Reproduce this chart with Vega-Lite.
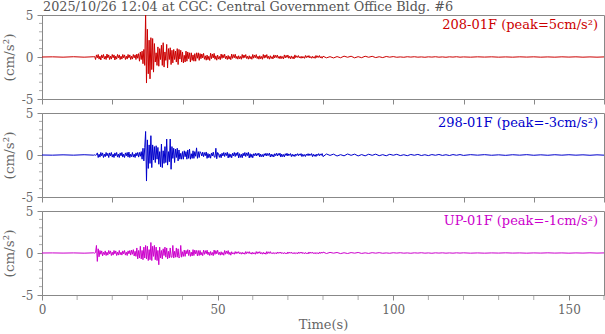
{
  "$schema": "https://vega.github.io/schema/vega-lite/v6.json",
  "padding": {"left": 1, "top": 0, "right": 0, "bottom": 0},
  "background": "white",
  "config": {
    "font": "DejaVu Serif",
    "view": {"stroke": "#888888", "strokeWidth": 1},
    "axis": {"domainColor": "#888888", "tickColor": "#888888", "labelColor": "#666666", "titleColor": "#666666", "labelFont": "DejaVu Serif", "titleFont": "DejaVu Serif", "labelFontSize": 12, "titleFontWeight": "normal", "grid": false, "labelFlush": false, "labelOverlap": false}
  },
  "datasets": {
    "minorY": [{"v":-4},{"v":-3},{"v":-2},{"v":-1},{"v":1},{"v":2},{"v":3},{"v":4}],
    "minorX": [{"v":10},{"v":20},{"v":30},{"v":40},{"v":60},{"v":70},{"v":80},{"v":90},{"v":110},{"v":120},{"v":130},{"v":140},{"v":160}]
  },
  "data": {"values": [
    {"t":0,"a":0,"b":0,"c":0},
    {"t":3,"a":0.02,"b":-0.02,"c":0.01},
    {"t":6,"a":-0.02,"b":0.02,"c":-0.01},
    {"t":9,"a":0.03,"b":-0.02,"c":0.01},
    {"t":12,"a":-0.02,"b":0.03,"c":-0.02},
    {"t":14.75,"a":0.03,"b":-0.02,"c":0.02},
    {"t":15,"a":0.05,"b":0.02,"c":-0.02},
    {"t":15.25,"a":-0.3,"b":-0.03,"c":0.05},
    {"t":15.5,"a":0.25,"b":0.03,"c":0.9},
    {"t":15.75,"a":-0.1,"b":0.25,"c":-1.0},
    {"t":16,"a":0.3,"b":-0.3,"c":0.5},
    {"t":16.25,"a":-0.25,"b":0.1,"c":-0.45},
    {"t":16.5,"a":0.1,"b":-0.25,"c":0.3},
    {"t":16.75,"a":-0.35,"b":0.3,"c":-0.15},
    {"t":17,"a":0.25,"b":-0.1,"c":0.25},
    {"t":17.25,"a":-0.1,"b":0.25,"c":-0.35},
    {"t":17.5,"a":0.3,"b":-0.3,"c":0.1},
    {"t":17.75,"a":-0.25,"b":0.1,"c":-0.2},
    {"t":18,"a":0.1,"b":-0.2,"c":0.25},
    {"t":18.25,"a":-0.3,"b":0.3,"c":-0.3},
    {"t":18.5,"a":0.35,"b":-0.1,"c":0.1},
    {"t":18.75,"a":-0.1,"b":0.2,"c":-0.25},
    {"t":19,"a":0.25,"b":-0.3,"c":0.3},
    {"t":19.25,"a":-0.3,"b":0.25,"c":-0.1},
    {"t":19.5,"a":0.1,"b":-0.1,"c":0.25},
    {"t":19.75,"a":-0.25,"b":0.3,"c":-0.3},
    {"t":20,"a":0.3,"b":-0.25,"c":0.1},
    {"t":20.25,"a":-0.1,"b":0.1,"c":-0.25},
    {"t":20.5,"a":0.25,"b":-0.3,"c":0.3},
    {"t":20.75,"a":-0.35,"b":0.25,"c":-0.1},
    {"t":21,"a":0.1,"b":-0.1,"c":0.25},
    {"t":21.25,"a":-0.25,"b":0.3,"c":-0.3},
    {"t":21.5,"a":0.3,"b":-0.25,"c":0.1},
    {"t":21.75,"a":-0.1,"b":0.1,"c":-0.25},
    {"t":22,"a":0.25,"b":-0.3,"c":0.3},
    {"t":22.25,"a":-0.3,"b":0.25,"c":-0.2},
    {"t":22.5,"a":0.1,"b":-0.1,"c":0.1},
    {"t":22.75,"a":-0.25,"b":0.3,"c":-0.25},
    {"t":23,"a":0.3,"b":-0.25,"c":0.25},
    {"t":23.25,"a":-0.1,"b":0.1,"c":-0.1},
    {"t":23.5,"a":0.25,"b":-0.3,"c":0.3},
    {"t":23.75,"a":-0.3,"b":0.25,"c":-0.25},
    {"t":24,"a":0.1,"b":-0.1,"c":0.1},
    {"t":24.25,"a":-0.25,"b":0.3,"c":-0.3},
    {"t":24.5,"a":0.3,"b":-0.25,"c":0.25},
    {"t":24.75,"a":-0.1,"b":0.35,"c":-0.1},
    {"t":25,"a":0.25,"b":-0.3,"c":0.3},
    {"t":25.25,"a":-0.3,"b":0.1,"c":-0.25},
    {"t":25.5,"a":0.1,"b":-0.2,"c":0.35},
    {"t":25.75,"a":-0.25,"b":0.3,"c":-0.15},
    {"t":26,"a":0.3,"b":-0.25,"c":0.4},
    {"t":26.25,"a":-0.1,"b":0.1,"c":-0.35},
    {"t":26.5,"a":0.25,"b":-0.3,"c":0.2},
    {"t":26.75,"a":-0.3,"b":0.25,"c":-0.4},
    {"t":27,"a":0.35,"b":-0.1,"c":0.6},
    {"t":27.25,"a":-0.15,"b":0.3,"c":-0.7},
    {"t":27.5,"a":0.4,"b":-0.25,"c":0.3},
    {"t":27.75,"a":-0.5,"b":0.3,"c":-0.6},
    {"t":28,"a":0.6,"b":-0.15,"c":0.8},
    {"t":28.25,"a":-0.3,"b":0.4,"c":-0.7},
    {"t":28.5,"a":0.7,"b":-0.5,"c":0.3},
    {"t":28.75,"a":-0.8,"b":0.8,"c":-0.8},
    {"t":29,"a":0.9,"b":-0.7,"c":0.7},
    {"t":29.25,"a":-1.0,"b":0.9,"c":-0.6},
    {"t":29.5,"a":5.3,"b":2.8,"c":0.9},
    {"t":29.75,"a":-3.1,"b":-3.1,"c":-0.7},
    {"t":30,"a":3.3,"b":1.8,"c":0.8},
    {"t":30.25,"a":-2.0,"b":-1.6,"c":-0.9},
    {"t":30.5,"a":2.0,"b":1.2,"c":0.4},
    {"t":30.75,"a":-2.6,"b":-1.0,"c":-0.8},
    {"t":31,"a":2.3,"b":2.3,"c":1.25},
    {"t":31.25,"a":-1.5,"b":-1.5,"c":-0.9},
    {"t":31.5,"a":2.2,"b":1.2,"c":0.8},
    {"t":31.75,"a":-1.8,"b":-0.6,"c":-0.4},
    {"t":32,"a":1.6,"b":1.0,"c":0.9},
    {"t":32.25,"a":-0.6,"b":-0.9,"c":-0.8},
    {"t":32.5,"a":0.5,"b":1.1,"c":0.7},
    {"t":32.75,"a":-1.0,"b":-0.5,"c":-0.9},
    {"t":33,"a":1.2,"b":0.9,"c":0.3},
    {"t":33.25,"a":-1.1,"b":-1.1,"c":-1.4},
    {"t":33.5,"a":1.0,"b":0.4,"c":0.7},
    {"t":33.75,"a":-0.3,"b":-1.4,"c":-0.6},
    {"t":34,"a":1.4,"b":1.3,"c":0.3},
    {"t":34.25,"a":-1.0,"b":-1.5,"c":-0.7},
    {"t":34.5,"a":1.7,"b":0.5,"c":0.5},
    {"t":34.75,"a":-1.2,"b":-1.0,"c":-0.3},
    {"t":35,"a":0.6,"b":1.0,"c":0.7},
    {"t":35.25,"a":-0.4,"b":-0.9,"c":-0.5},
    {"t":35.5,"a":1.5,"b":1.9,"c":0.6},
    {"t":35.75,"a":-1.3,"b":-1.2,"c":-0.7},
    {"t":36,"a":1.0,"b":0.4,"c":0.2},
    {"t":36.25,"a":-0.3,"b":-0.8,"c":-0.6},
    {"t":36.5,"a":1.1,"b":1.9,"c":0.6},
    {"t":36.75,"a":-0.9,"b":-1.7,"c":-0.5},
    {"t":37,"a":0.8,"b":1.0,"c":-0.5},
    {"t":37.25,"a":-0.7,"b":-0.4,"c":0.9},
    {"t":37.5,"a":0.9,"b":0.8,"c":-0.6},
    {"t":37.75,"a":-0.3,"b":-0.9,"c":0.2},
    {"t":38,"a":0.7,"b":0.7,"c":-0.5},
    {"t":38.25,"a":-0.6,"b":-0.3,"c":0.6},
    {"t":38.5,"a":1.0,"b":0.8,"c":-0.5},
    {"t":38.75,"a":-0.9,"b":-0.7,"c":0.5},
    {"t":39,"a":0.9,"b":0.6,"c":-0.6},
    {"t":39.25,"a":-0.25,"b":-0.5,"c":-0.4},
    {"t":39.5,"a":0.8,"b":0.2,"c":0.9},
    {"t":39.75,"a":-0.6,"b":-0.5,"c":-0.5},
    {"t":40,"a":0.6,"b":0.4,"c":0.15},
    {"t":40.25,"a":-0.7,"b":-0.5,"c":-0.4},
    {"t":40.5,"a":0.2,"b":0.5,"c":0.35},
    {"t":40.75,"a":-0.6,"b":-0.2,"c":-0.4},
    {"t":41,"a":0.7,"b":0.4,"c":0.3},
    {"t":41.25,"a":-0.5,"b":-0.5,"c":-0.1},
    {"t":41.5,"a":0.6,"b":0.6,"c":0.4},
    {"t":41.75,"a":-0.2,"b":-0.4,"c":-0.3},
    {"t":42,"a":0.5,"b":0.7,"c":0.35},
    {"t":42.25,"a":-0.6,"b":-0.5,"c":-0.4},
    {"t":42.5,"a":0.5,"b":0.15,"c":0.1},
    {"t":42.75,"a":-0.4,"b":-0.4,"c":-0.35},
    {"t":43,"a":0.25,"b":0.5,"c":0.4},
    {"t":43.25,"a":-0.5,"b":-0.4,"c":-0.3},
    {"t":43.5,"a":0.4,"b":0.4,"c":0.35},
    {"t":43.75,"a":-0.5,"b":-0.15,"c":-0.1},
    {"t":44,"a":0.5,"b":0.85,"c":0.3},
    {"t":44.25,"a":-0.15,"b":-0.4,"c":-0.35},
    {"t":44.5,"a":0.5,"b":0.4,"c":0.3},
    {"t":44.75,"a":-0.4,"b":-0.3,"c":-0.3},
    {"t":45,"a":0.4,"b":0.4,"c":0.3},
    {"t":45.25,"a":-0.2,"b":0.24,"c":-0.25},
    {"t":45.5,"a":0.36,"b":-0.12,"c":0.07},
    {"t":45.75,"a":-0.11,"b":0.34,"c":-0.32},
    {"t":46,"a":0.43,"b":-0.2,"c":0.35},
    {"t":46.25,"a":-0.27,"b":0.28,"c":-0.16},
    {"t":46.5,"a":0.14,"b":-0.08,"c":0.28},
    {"t":46.75,"a":-0.38,"b":0.36,"c":-0.09},
    {"t":47,"a":0.23,"b":-0.4,"c":0.33},
    {"t":47.25,"a":-0.32,"b":0.18,"c":-0.21},
    {"t":47.5,"a":0.09,"b":-0.32,"c":0.11},
    {"t":47.75,"a":-0.41,"b":0.1,"c":-0.3},
    {"t":48,"a":0.45,"b":-0.38,"c":0.18},
    {"t":48.25,"a":-0.2,"b":0.24,"c":-0.25},
    {"t":48.5,"a":0.36,"b":-0.12,"c":0.07},
    {"t":48.75,"a":-0.11,"b":0.34,"c":-0.32},
    {"t":49,"a":0.43,"b":-0.2,"c":0.35},
    {"t":49.25,"a":-0.27,"b":-0.28,"c":-0.16},
    {"t":49.5,"a":0.14,"b":0.8,"c":0.28},
    {"t":49.75,"a":-0.38,"b":-0.45,"c":-0.09},
    {"t":50,"a":0.23,"b":0.3,"c":0.33},
    {"t":50.25,"a":-0.25,"b":0.16,"c":-0.18},
    {"t":50.5,"a":0.07,"b":-0.28,"c":0.09},
    {"t":50.75,"a":-0.32,"b":0.09,"c":-0.26},
    {"t":51,"a":0.35,"b":-0.33,"c":0.15},
    {"t":51.25,"a":-0.16,"b":0.21,"c":-0.21},
    {"t":51.5,"a":0.28,"b":-0.11,"c":0.06},
    {"t":51.75,"a":-0.09,"b":0.3,"c":-0.27},
    {"t":52,"a":0.33,"b":-0.18,"c":0.3},
    {"t":52.25,"a":-0.21,"b":0.25,"c":-0.14},
    {"t":52.5,"a":0.11,"b":-0.07,"c":0.24},
    {"t":52.75,"a":-0.3,"b":0.32,"c":-0.08},
    {"t":53,"a":0.18,"b":-0.35,"c":0.29},
    {"t":53.25,"a":-0.25,"b":0.16,"c":-0.18},
    {"t":53.5,"a":0.07,"b":-0.28,"c":0.09},
    {"t":53.75,"a":-0.32,"b":0.09,"c":-0.26},
    {"t":54,"a":0.35,"b":-0.33,"c":0.15},
    {"t":54.25,"a":-0.16,"b":0.21,"c":-0.12},
    {"t":54.5,"a":0.28,"b":-0.11,"c":0.03},
    {"t":54.75,"a":-0.09,"b":0.3,"c":-0.15},
    {"t":55,"a":0.33,"b":-0.18,"c":0.17},
    {"t":55.25,"a":-0.18,"b":0.25,"c":-0.08},
    {"t":55.5,"a":0.09,"b":-0.07,"c":0.14},
    {"t":55.75,"a":-0.26,"b":0.32,"c":-0.04},
    {"t":56,"a":0.15,"b":-0.35,"c":0.16},
    {"t":56.25,"a":-0.21,"b":0.16,"c":-0.1},
    {"t":56.5,"a":0.06,"b":-0.28,"c":0.05},
    {"t":56.75,"a":-0.27,"b":0.09,"c":-0.14},
    {"t":57,"a":0.3,"b":-0.33,"c":0.09},
    {"t":57.25,"a":-0.14,"b":0.21,"c":-0.12},
    {"t":57.5,"a":0.24,"b":-0.11,"c":0.03},
    {"t":57.75,"a":-0.08,"b":0.3,"c":-0.15},
    {"t":58,"a":0.29,"b":-0.18,"c":0.17},
    {"t":58.25,"a":-0.18,"b":0.25,"c":-0.08},
    {"t":58.5,"a":0.09,"b":-0.07,"c":0.14},
    {"t":58.75,"a":-0.26,"b":0.32,"c":-0.04},
    {"t":59,"a":0.15,"b":-0.35,"c":0.16},
    {"t":59.25,"a":-0.21,"b":0.16,"c":-0.1},
    {"t":59.5,"a":0.06,"b":-0.28,"c":0.05},
    {"t":59.75,"a":-0.27,"b":0.09,"c":-0.14},
    {"t":60,"a":0.3,"b":-0.33,"c":0.09},
    {"t":60.25,"a":-0.14,"b":0.15,"c":-0.12},
    {"t":60.5,"a":0.24,"b":-0.07,"c":0.03},
    {"t":60.75,"a":-0.08,"b":0.21,"c":-0.15},
    {"t":61,"a":0.29,"b":-0.12,"c":0.17},
    {"t":61.25,"a":-0.18,"b":0.18,"c":-0.08},
    {"t":61.5,"a":0.09,"b":-0.05,"c":0.14},
    {"t":61.75,"a":-0.26,"b":0.22,"c":-0.04},
    {"t":62,"a":0.15,"b":-0.24,"c":0.16},
    {"t":62.25,"a":-0.21,"b":0.11,"c":-0.1},
    {"t":62.5,"a":0.06,"b":-0.19,"c":0.05},
    {"t":62.75,"a":-0.27,"b":0.06,"c":-0.14},
    {"t":63,"a":0.3,"b":-0.23,"c":0.09},
    {"t":63.25,"a":-0.14,"b":0.15,"c":-0.12},
    {"t":63.5,"a":0.24,"b":-0.07,"c":0.03},
    {"t":63.75,"a":-0.08,"b":0.21,"c":-0.15},
    {"t":64,"a":0.29,"b":-0.12,"c":0.17},
    {"t":64.25,"a":-0.18,"b":0.18,"c":-0.08},
    {"t":64.5,"a":0.09,"b":-0.05,"c":0.14},
    {"t":64.75,"a":-0.26,"b":0.22,"c":-0.04},
    {"t":65,"a":0.15,"b":-0.24,"c":0.16},
    {"t":65.25,"a":-0.18,"b":0.11,"c":-0.07},
    {"t":65.5,"a":0.05,"b":-0.19,"c":0.04},
    {"t":65.75,"a":-0.23,"b":0.06,"c":-0.1},
    {"t":66,"a":0.25,"b":-0.23,"c":0.06},
    {"t":66.25,"a":-0.11,"b":0.15,"c":-0.08},
    {"t":66.5,"a":0.2,"b":-0.07,"c":0.02},
    {"t":66.75,"a":-0.06,"b":0.21,"c":-0.11},
    {"t":67,"a":0.24,"b":-0.12,"c":0.12},
    {"t":67.25,"a":-0.15,"b":0.18,"c":-0.05},
    {"t":67.5,"a":0.08,"b":-0.05,"c":0.1},
    {"t":67.75,"a":-0.21,"b":0.22,"c":-0.03},
    {"t":68,"a":0.13,"b":-0.24,"c":0.11},
    {"t":68.25,"a":-0.18,"b":0.11,"c":-0.07},
    {"t":68.5,"a":0.05,"b":-0.19,"c":0.04},
    {"t":68.75,"a":-0.23,"b":0.06,"c":-0.1},
    {"t":69,"a":0.25,"b":-0.23,"c":0.06},
    {"t":69.25,"a":-0.11,"b":0.15,"c":-0.08},
    {"t":69.5,"a":0.2,"b":-0.07,"c":0.02},
    {"t":69.75,"a":-0.06,"b":0.21,"c":-0.11},
    {"t":70,"a":0.24,"b":-0.12,"c":0.12},
    {"t":70.25,"a":-0.15,"b":0.13,"c":-0.05},
    {"t":70.5,"a":0.08,"b":-0.04,"c":0.1},
    {"t":70.75,"a":-0.21,"b":0.17,"c":-0.03},
    {"t":71,"a":0.13,"b":-0.19,"c":0.11},
    {"t":71.25,"a":-0.18,"b":0.09,"c":-0.07},
    {"t":71.5,"a":0.05,"b":-0.15,"c":0.04},
    {"t":71.75,"a":-0.23,"b":0.05,"c":-0.1},
    {"t":72,"a":0.25,"b":-0.18,"c":0.06},
    {"t":72.25,"a":-0.08,"b":0.11,"c":-0.08},
    {"t":72.5,"a":0.14,"b":-0.06,"c":0.02},
    {"t":72.75,"a":-0.05,"b":0.16,"c":-0.11},
    {"t":73,"a":0.17,"b":-0.09,"c":0.12},
    {"t":73.25,"a":-0.11,"b":0.13,"c":-0.05},
    {"t":73.5,"a":0.05,"b":-0.04,"c":0.1},
    {"t":73.75,"a":-0.15,"b":0.17,"c":-0.03},
    {"t":74,"a":0.09,"b":-0.19,"c":0.11},
    {"t":74.25,"a":-0.13,"b":0.09,"c":-0.07},
    {"t":74.5,"a":0.04,"b":-0.15,"c":0.04},
    {"t":74.75,"a":-0.16,"b":0.05,"c":-0.1},
    {"t":75,"a":0.18,"b":-0.18,"c":0.06},
    {"t":75.25,"a":-0.08,"b":0.11,"c":-0.08},
    {"t":75.5,"a":0.14,"b":-0.06,"c":0.02},
    {"t":75.75,"a":-0.05,"b":0.16,"c":-0.11},
    {"t":76,"a":0.17,"b":-0.09,"c":0.12},
    {"t":76.25,"a":-0.11,"b":0.13,"c":-0.05},
    {"t":76.5,"a":0.05,"b":-0.04,"c":0.1},
    {"t":76.75,"a":-0.15,"b":0.17,"c":-0.03},
    {"t":77,"a":0.09,"b":-0.19,"c":0.11},
    {"t":77.25,"a":-0.13,"b":0.09,"c":-0.07},
    {"t":77.5,"a":0.04,"b":-0.15,"c":0.04},
    {"t":77.75,"a":-0.16,"b":0.05,"c":-0.1},
    {"t":78,"a":0.18,"b":-0.18,"c":0.06},
    {"t":78.25,"a":-0.08,"b":0.11,"c":-0.08},
    {"t":78.5,"a":0.14,"b":-0.06,"c":0.02},
    {"t":78.75,"a":-0.05,"b":0.16,"c":-0.11},
    {"t":79,"a":0.17,"b":-0.09,"c":0.12},
    {"t":79.25,"a":-0.11,"b":0.13,"c":-0.05},
    {"t":79.5,"a":0.05,"b":-0.04,"c":0.1},
    {"t":79.75,"a":-0.15,"b":0.17,"c":-0.03},
    {"t":80,"a":0.09,"b":-0.19,"c":0.11},
    {"t":81,"a":-0.1,"b":0.12,"c":-0.06},
    {"t":82,"a":0.04,"b":-0.05,"c":0.07},
    {"t":83,"a":-0.11,"b":0.1,"c":-0.02},
    {"t":84,"a":0.05,"b":-0.12,"c":0.06},
    {"t":85,"a":-0.09,"b":0.04,"c":-0.07},
    {"t":86,"a":0.1,"b":-0.1,"c":0.03},
    {"t":87,"a":-0.03,"b":0.12,"c":-0.06},
    {"t":88,"a":0.09,"b":-0.04,"c":0.05},
    {"t":89,"a":-0.1,"b":0.1,"c":-0.02},
    {"t":90,"a":0.04,"b":-0.11,"c":0.06},
    {"t":91,"a":-0.08,"b":0.05,"c":-0.05},
    {"t":92,"a":0.09,"b":-0.1,"c":0.02},
    {"t":93,"a":-0.03,"b":0.09,"c":-0.05},
    {"t":94,"a":0.08,"b":-0.04,"c":0.04},
    {"t":95,"a":-0.07,"b":0.1,"c":-0.02},
    {"t":96,"a":0.03,"b":-0.08,"c":0.04},
    {"t":97,"a":-0.07,"b":0.04,"c":-0.03},
    {"t":98,"a":0.06,"b":-0.09,"c":0.01},
    {"t":99,"a":-0.02,"b":0.08,"c":-0.03},
    {"t":100,"a":0.05,"b":-0.03,"c":0.03},
    {"t":101,"a":-0.03,"b":0.08,"c":-0.01},
    {"t":102,"a":0.01,"b":-0.07,"c":0.03},
    {"t":103,"a":-0.03,"b":0.03,"c":-0.02},
    {"t":104,"a":0.03,"b":-0.08,"c":0.01},
    {"t":105,"a":-0.01,"b":0.06,"c":-0.03},
    {"t":106,"a":0.03,"b":-0.03,"c":0.02},
    {"t":107,"a":-0.02,"b":0.07,"c":-0.01},
    {"t":108,"a":0.01,"b":-0.06,"c":0.03},
    {"t":109,"a":-0.03,"b":0.03,"c":-0.02},
    {"t":110,"a":0.02,"b":-0.07,"c":0.01},
    {"t":111,"a":-0.01,"b":0.05,"c":-0.03},
    {"t":112,"a":0.03,"b":-0.03,"c":0.02},
    {"t":113,"a":-0.02,"b":0.06,"c":-0.01},
    {"t":114,"a":0.01,"b":-0.05,"c":0.02},
    {"t":115,"a":-0.03,"b":0.03,"c":-0.02},
    {"t":116,"a":0.02,"b":-0.06,"c":0.01},
    {"t":117,"a":-0.01,"b":0.05,"c":-0.02},
    {"t":118,"a":0.03,"b":-0.03,"c":0.02},
    {"t":119,"a":-0.02,"b":0.05,"c":-0.01},
    {"t":120,"a":0.01,"b":-0.05,"c":0.02},
    {"t":122,"a":-0.02,"b":0.04,"c":-0.02},
    {"t":124,"a":0.02,"b":-0.02,"c":0.01},
    {"t":126,"a":-0.01,"b":0.04,"c":-0.02},
    {"t":128,"a":0.02,"b":-0.03,"c":0.01},
    {"t":130,"a":-0.02,"b":0.02,"c":-0.01},
    {"t":132,"a":0.01,"b":-0.04,"c":0.02},
    {"t":134,"a":-0.02,"b":0.03,"c":-0.01},
    {"t":136,"a":0.02,"b":-0.02,"c":0.01},
    {"t":138,"a":-0.01,"b":0.04,"c":-0.02},
    {"t":140,"a":0.02,"b":-0.03,"c":0.01},
    {"t":142,"a":-0.02,"b":0.02,"c":-0.01},
    {"t":144,"a":0.01,"b":-0.03,"c":0.02},
    {"t":146,"a":-0.02,"b":0.03,"c":-0.01},
    {"t":148,"a":0.02,"b":-0.02,"c":0.01},
    {"t":150,"a":-0.01,"b":0.03,"c":-0.02},
    {"t":152,"a":0.02,"b":-0.02,"c":0.01},
    {"t":154,"a":-0.02,"b":0.02,"c":-0.01},
    {"t":156,"a":0.01,"b":-0.03,"c":0.02},
    {"t":158,"a":-0.02,"b":0.02,"c":-0.01},
    {"t":160,"a":0.01,"b":-0.02,"c":0.01}
  ]},
  "spacing": 14,
  "bounds": "flush",
  "vconcat": [
    {
      "width": 562, "height": 84,
      "layer": [
        {"mark": {"type": "line", "color": "#cc0000", "strokeWidth": 1, "clip": true},
         "encoding": {
           "x": {"field": "t", "type": "quantitative", "scale": {"domain": [0, 160], "nice": false, "zero": false}, "axis": {"values": [0,10,20,30,40,50,60,70,80,90,100,110,120,130,140,150,160], "labels": false, "title": null, "tickSize": 5}},
           "y": {"field": "a", "type": "quantitative", "scale": {"domain": [-5, 5], "nice": false}, "axis": {"values": [-5, 0, 5], "labelExpr": "datum.value < 0 ? '-5' : datum.label", "tickSize": 5, "labelPadding": 4, "title": "(cm/s²)", "titleFontSize": 13.5, "titlePadding": 5}}
         }},
        {"data": {"name": "minorY"},
         "mark": {"type": "tick", "orient": "horizontal", "size": 3, "thickness": 1, "color": "#888888", "xOffset": -1.5},
         "encoding": {"x": {"datum": 0, "type": "quantitative"}, "y": {"field": "v", "type": "quantitative"}}},
        {"data": {"values": [{}]},
         "mark": {"type": "text", "align": "right", "baseline": "alphabetic", "dx": -6, "dy": 13.5, "fontSize": 13, "font": "DejaVu Serif", "color": "#cc0000"},
         "encoding": {"x": {"datum": 160, "type": "quantitative"}, "y": {"datum": 5, "type": "quantitative"}, "text": {"value": "208-01F (peak=5cm/s²)"}}},
        {"data": {"values": [{}]},
         "mark": {"type": "text", "align": "left", "baseline": "alphabetic", "dx": 1, "dy": -4.5, "fontSize": 12.8, "font": "DejaVu Serif", "color": "#555555"},
         "encoding": {"x": {"datum": 0, "type": "quantitative"}, "y": {"datum": 5, "type": "quantitative"}, "text": {"value": "2025/10/26 12:04 at CGC: Central Government Office Bldg. #6"}}}
      ]
    },
    {
      "width": 562, "height": 84,
      "layer": [
        {"mark": {"type": "line", "color": "#0000cc", "strokeWidth": 1, "clip": true},
         "encoding": {
           "x": {"field": "t", "type": "quantitative", "scale": {"domain": [0, 160], "nice": false, "zero": false}, "axis": {"values": [0,10,20,30,40,50,60,70,80,90,100,110,120,130,140,150,160], "labels": false, "title": null, "tickSize": 5}},
           "y": {"field": "b", "type": "quantitative", "scale": {"domain": [-5, 5], "nice": false}, "axis": {"values": [-5, 0, 5], "labelExpr": "datum.value < 0 ? '-5' : datum.label", "tickSize": 5, "labelPadding": 4, "title": "(cm/s²)", "titleFontSize": 13.5, "titlePadding": 5}}
         }},
        {"data": {"name": "minorY"},
         "mark": {"type": "tick", "orient": "horizontal", "size": 3, "thickness": 1, "color": "#888888", "xOffset": -1.5},
         "encoding": {"x": {"datum": 0, "type": "quantitative"}, "y": {"field": "v", "type": "quantitative"}}},
        {"data": {"values": [{}]},
         "mark": {"type": "text", "align": "right", "baseline": "alphabetic", "dx": -6, "dy": 13.5, "fontSize": 13, "font": "DejaVu Serif", "color": "#0000cc"},
         "encoding": {"x": {"datum": 160, "type": "quantitative"}, "y": {"datum": 5, "type": "quantitative"}, "text": {"value": "298-01F (peak=-3cm/s²)"}}}
      ]
    },
    {
      "width": 562, "height": 84,
      "layer": [
        {"mark": {"type": "line", "color": "#cc00cc", "strokeWidth": 1, "clip": true},
         "encoding": {
           "x": {"field": "t", "type": "quantitative", "scale": {"domain": [0, 160], "nice": false, "zero": false}, "axis": {"values": [0, 50, 100, 150], "tickSize": 5, "labelPadding": 4, "title": "Time(s)", "titleFontSize": 13, "titlePadding": 3}},
           "y": {"field": "c", "type": "quantitative", "scale": {"domain": [-5, 5], "nice": false}, "axis": {"values": [-5, 0, 5], "labelExpr": "datum.value < 0 ? '-5' : datum.label", "tickSize": 5, "labelPadding": 4, "title": "(cm/s²)", "titleFontSize": 13.5, "titlePadding": 5}}
         }},
        {"data": {"name": "minorY"},
         "mark": {"type": "tick", "orient": "horizontal", "size": 3, "thickness": 1, "color": "#888888", "xOffset": -1.5},
         "encoding": {"x": {"datum": 0, "type": "quantitative"}, "y": {"field": "v", "type": "quantitative"}}},
        {"data": {"name": "minorX"},
         "mark": {"type": "tick", "orient": "vertical", "size": 5, "thickness": 1, "color": "#888888", "yOffset": 2.5},
         "encoding": {"x": {"field": "v", "type": "quantitative"}, "y": {"datum": -5, "type": "quantitative"}}},
        {"data": {"values": [{}]},
         "mark": {"type": "text", "align": "right", "baseline": "alphabetic", "dx": -6, "dy": 13.5, "fontSize": 13, "font": "DejaVu Serif", "color": "#cc00cc"},
         "encoding": {"x": {"datum": 160, "type": "quantitative"}, "y": {"datum": 5, "type": "quantitative"}, "text": {"value": "UP-01F (peak=-1cm/s²)"}}}
      ]
    }
  ]
}
